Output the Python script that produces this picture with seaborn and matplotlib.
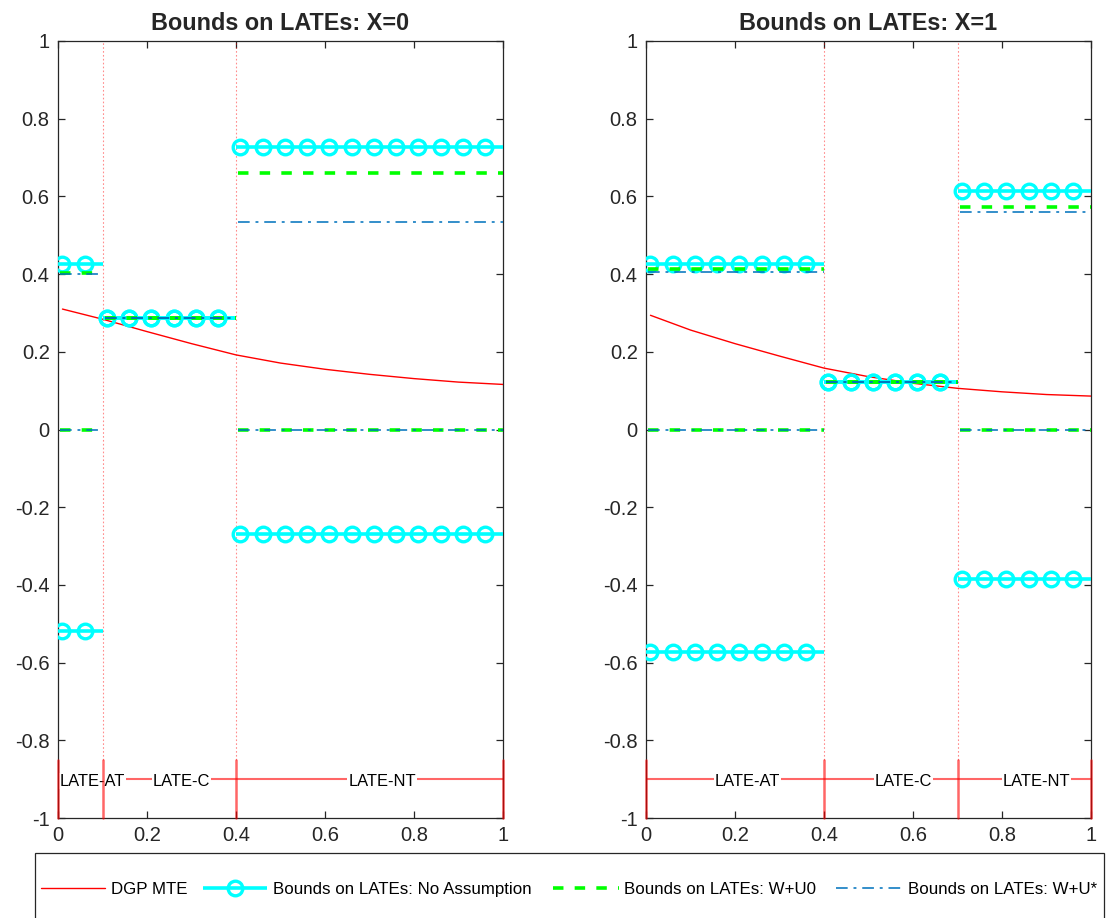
import numpy as np
import pandas as pd
import matplotlib
matplotlib.use("Agg")
import matplotlib.pyplot as plt
from matplotlib.lines import Line2D
from matplotlib.patches import Rectangle
import seaborn as sns

# ---------------- data ----------------
titles = ["Bounds on LATEs: X=0", "Bounds on LATEs: X=1"]
seg_labels = ["LATE-AT", "LATE-C", "LATE-NT"]

# segment boundaries (propensity score cut points)
bounds_x0 = [0.0, 0.1, 0.4, 1.0]
bounds_x1 = [0.0, 0.4, 0.7, 1.0]

# No-assumption bounds (upper / lower) per segment
na_up_x0 = [0.425, 0.287, 0.728]
na_lo_x0 = [-0.518, 0.287, -0.270]
na_up_x1 = [0.425, 0.121, 0.614]
na_lo_x1 = [-0.573, 0.121, -0.384]

# W+U0 bounds
u0_up_x0 = [0.402, 0.287, 0.661]
u0_lo_x0 = [0.0, 0.287, 0.0]
u0_up_x1 = [0.412, 0.121, 0.572]
u0_lo_x1 = [0.0, 0.121, 0.0]

# W+U* bounds
us_up_x0 = [0.400, 0.287, 0.533]
us_lo_x0 = [0.0, 0.287, 0.0]
us_up_x1 = [0.406, 0.121, 0.561]
us_lo_x1 = [0.0, 0.121, 0.0]

# DGP MTE curve
mte_u = [0.01, 0.1, 0.2, 0.3, 0.4, 0.5, 0.6, 0.7, 0.8, 0.9, 1.0]
mte_x0 = [0.310, 0.284, 0.252, 0.221, 0.192, 0.171, 0.155, 0.142, 0.131, 0.122, 0.116]
mte_x1 = [0.294, 0.256, 0.221, 0.189, 0.158, 0.136, 0.119, 0.106, 0.097, 0.090, 0.086]

x_ticks = [0, 0.2, 0.4, 0.6, 0.8, 1]
x_ticklabels = ["0", "0.2", "0.4", "0.6", "0.8", "1"]
y_ticks = [-1, -0.8, -0.6, -0.4, -0.2, 0, 0.2, 0.4, 0.6, 0.8, 1]
y_ticklabels = ["-1", "-0.8", "-0.6", "-0.4", "-0.2", "0", "0.2", "0.4", "0.6", "0.8", "1"]

legend_labels = ["DGP MTE", "Bounds on LATEs: No Assumption",
                 "Bounds on LATEs: W+U0", "Bounds on LATEs: W+U*"]

# ---------------- style ----------------
sns.set_theme(style="white")
plt.rcParams["font.family"] = ["Liberation Sans", "DejaVu Sans"]

RED = "#ff0000"
CYAN = "#00ffff"
GREEN = "#00ff00"
BLUE = "#0072bd"
SPINE = "#262626"
FS = 14.5

STYLE_MTE = dict(color=RED, lw=1.0)
STYLE_NA = dict(color=CYAN, lw=2.6, solid_capstyle="butt")
STYLE_MK = dict(ls="none", marker="o", ms=10.5, mfc="none", mec=CYAN, mew=2.4)
STYLE_U0 = dict(color=GREEN, lw=2.6, ls=(0, (2.9, 3.1)))
STYLE_US = dict(color=BLUE, lw=1.4, ls=(0, (6, 3, 1.5, 3)), alpha=0.8)

fig = plt.figure(figsize=(11.07, 9.18), dpi=100)
W, H = 1107, 918
ax_l = fig.add_axes([58 / W, (H - 818) / H, 445 / W, 777 / H])
ax_r = fig.add_axes([646 / W, (H - 818) / H, 445 / W, 777 / H])

panels = [
    (ax_l, bounds_x0, na_up_x0, na_lo_x0, u0_up_x0, u0_lo_x0, us_up_x0, us_lo_x0, mte_x0, titles[0]),
    (ax_r, bounds_x1, na_up_x1, na_lo_x1, u0_up_x1, u0_lo_x1, us_up_x1, us_lo_x1, mte_x1, titles[1]),
]

for ax, bnd, nup, nlo, uup, ulo, sup, slo, mte, title in panels:
    # DGP MTE
    df = pd.DataFrame({"u": mte_u, "mte": mte})
    sns.lineplot(data=df, x="u", y="mte", ax=ax, zorder=3, **STYLE_MTE)

    for i in range(3):
        a, b = bnd[i], bnd[i + 1]
        mk = np.arange(a + 0.01, b - 0.005, 0.05)
        for v in (nup[i], nlo[i]):
            ax.plot([a, b], [v, v], zorder=4, **STYLE_NA)
            ax.plot(mk, [v] * len(mk), zorder=4, **STYLE_MK)
        for v in (uup[i], ulo[i]):
            ax.plot([a + 0.005, b], [v, v], zorder=5, **STYLE_U0)
        for v in (sup[i], slo[i]):
            ax.plot([a + 0.005, b], [v, v], zorder=6, **STYLE_US)

    # boundary dotted lines
    for xb in bnd[1:-1]:
        ax.plot([xb, xb], [-0.85, 1], color=RED, lw=0.8, ls=(0, (1.5, 2)), alpha=0.45, zorder=2)

    # segment annotation at bottom
    ax.plot([0, 1], [-0.9, -0.9], color=RED, lw=1.5, alpha=0.6, zorder=2)
    for xb in bnd:
        ax.plot([xb, xb], [-1, -0.85], color=RED, lw=1.8, alpha=0.6, zorder=7, clip_on=False)
    for i in range(3):
        mid = (bnd[i] + bnd[i + 1]) / 2 + 0.028
        ax.text(mid, -0.905, seg_labels[i], ha="center", va="center", fontsize=11.9,
                color="black", zorder=3,
                bbox=dict(boxstyle="square,pad=0.05", fc="white", ec="none"))

    ax.set_xlim(0, 1)
    ax.set_ylim(-1, 1)
    ax.set_xticks(x_ticks)
    ax.set_xticklabels(x_ticklabels)
    ax.set_yticks(y_ticks)
    ax.set_yticklabels(y_ticklabels)
    ax.set_xlabel("")
    ax.set_ylabel("")
    ax.tick_params(direction="in", length=5, width=0.9, color=SPINE, labelsize=FS,
                   labelcolor="#262626", top=True, right=True, left=True, bottom=True, pad=6)
    for sp in ax.spines.values():
        sp.set_color(SPINE)
        sp.set_linewidth(0.9)
        sp.set_visible(True)
    ax.set_title(title, fontsize=16.8, fontweight="bold", pad=8)

# legend box (drawn in figure pixel coordinates)
fig.patches.append(Rectangle((34.5 / W, -0.02), (1104 - 34.5) / W, (H - 852.5) / H + 0.02,
                             transform=fig.transFigure, fc="white", ec=SPINE, lw=0.9))
leg_y = (H - 888) / H
leg_items = [
    (41, 105, 111, STYLE_MTE, False),
    (203, 267, 273, STYLE_NA, True),
    (553, 619, 624, STYLE_U0, False),
    (836, 903, 908, STYLE_US, False),
]
for (x0, x1, xt, sty, mk), lab in zip(leg_items, legend_labels):
    fig.add_artist(Line2D([x0 / W, x1 / W], [leg_y, leg_y], transform=fig.transFigure, **sty))
    if mk:
        fig.add_artist(Line2D([(x0 + x1) / 2 / W], [leg_y], transform=fig.transFigure, **STYLE_MK))
    fig.text(xt / W, leg_y, lab, ha="left", va="center_baseline", fontsize=12.2, color="black")

fig.savefig("out.png", dpi=100)
